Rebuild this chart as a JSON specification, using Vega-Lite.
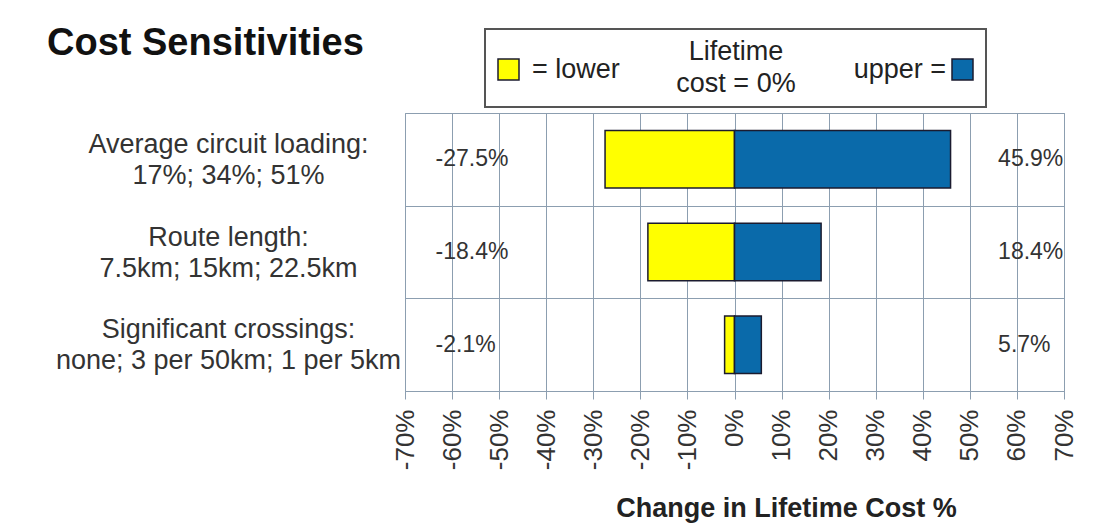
{
  "$schema": "https://vega.github.io/schema/vega-lite/v6.json",
  "width": 659,
  "height": 278,
  "autosize": {"type": "none"},
  "padding": {"left": 405, "top": 113, "right": 30, "bottom": 140},
  "background": "white",
  "title": {
    "text": "Cost Sensitivities",
    "anchor": "start",
    "frame": "group",
    "fontSize": 38,
    "fontWeight": "bold",
    "color": "#111111",
    "font": "Liberation Sans",
    "baseline": "alphabetic",
    "dx": -358,
    "dy": 65,
    "offset": 0
  },
  "data": {
    "values": [
      {"factor": "Average circuit loading:|17%; 34%; 51%", "side": "lower", "value": -0.275},
      {"factor": "Average circuit loading:|17%; 34%; 51%", "side": "upper", "value": 0.459},
      {"factor": "Route length:|7.5km; 15km; 22.5km", "side": "lower", "value": -0.184},
      {"factor": "Route length:|7.5km; 15km; 22.5km", "side": "upper", "value": 0.184},
      {"factor": "Significant crossings:|none; 3 per 50km; 1 per 5km", "side": "lower", "value": -0.021},
      {"factor": "Significant crossings:|none; 3 per 50km; 1 per 5km", "side": "upper", "value": 0.057}
    ]
  },
  "encoding": {
    "y": {
      "field": "factor",
      "type": "nominal",
      "sort": null,
      "scale": {"paddingInner": 0, "paddingOuter": 0},
      "axis": {
        "title": null,
        "domain": false,
        "ticks": false,
        "grid": true,
        "tickBand": "extent",
        "gridColor": "#8C9EB0",
        "gridOpacity": 1,
        "labelFontSize": 27,
        "labelColor": "#333333",
        "labelLineHeight": 31,
        "labelAlign": "center",
        "labelOffset": -15,
        "labelPadding": 177,
        "labelLimit": 800
      }
    }
  },
  "layer": [
    {
      "mark": {"type": "bar", "height": {"band": 0.62}, "stroke": "#1b1b2f", "strokeWidth": 1.5},
      "encoding": {
        "x": {
          "field": "value",
          "type": "quantitative",
          "stack": null,
          "scale": {"domain": [-0.7, 0.7], "nice": false, "zero": true},
          "axis": {
            "values": [-0.7, -0.6, -0.5, -0.4, -0.3, -0.2, -0.1, 0, 0.1, 0.2, 0.3, 0.4, 0.5, 0.6, 0.7],
            "format": ".0%",
            "labelAngle": 270,
            "labelFontSize": 26,
            "labelColor": "#333333",
            "labelPadding": 10,
            "labelFlush": false,
            "labelOverlap": false,
            "tickSize": 8,
            "tickColor": "#8C9EB0",
            "domainColor": "#8C9EB0",
            "grid": true,
            "gridColor": "#8C9EB0",
            "gridOpacity": 1,
            "title": "Change in Lifetime Cost %",
            "titleFontSize": 27,
            "titleFontWeight": "bold",
            "titleColor": "#222222",
            "titleX": 381,
            "titleY": 117,
            "titleBaseline": "middle",
            "titleAlign": "center"
          }
        },
        "color": {
          "field": "side",
          "type": "nominal",
          "scale": {"domain": ["lower", "upper"], "range": ["#FFFF00", "#0A6AAA"]},
          "legend": {
            "title": ["Lifetime", "cost = 0%"],
            "orient": "none",
            "legendX": 80,
            "legendY": -84,
            "direction": "horizontal",
            "titleAnchor": "middle",
            "titleAlign": "center",
            "titleFontSize": 27,
            "titleFontWeight": "normal",
            "titleColor": "#222222",
            "titleLineHeight": 32,
            "titleBaseline": "top",
            "titlePadding": -42,
            "symbolType": "square",
            "symbolSize": 441,
            "symbolStrokeColor": "#1b1b2f",
            "symbolStrokeWidth": 1.5,
            "symbolOpacity": 1,
            "labelFontSize": 27,
            "labelColor": "#222222",
            "labelOffset": 10,
            "columnPadding": 233,
            "padding": 10,
            "strokeColor": "#555555",
            "fillColor": "white",
            "labelExpr": "datum.value === 'lower' ? '= lower' : 'upper ='",
            "encode": {
              "legend": {"update": {"strokeWidth": {"value": 2}}},
              "labels": {
                "update": {
                  "align": {"signal": "datum.value === 'upper' ? 'right' : 'left'"},
                  "dx": {"signal": "datum.value === 'upper' ? -40 : 0"}
                }
              }
            }
          }
        }
      }
    },
    {
      "transform": [{"filter": "datum.side === 'lower'"}],
      "mark": {"type": "text", "align": "left", "baseline": "middle", "fontSize": 23, "color": "#333333"},
      "encoding": {
        "x": {"datum": -0.635},
        "text": {"field": "value", "type": "quantitative", "format": ".1%"}
      }
    },
    {
      "transform": [{"filter": "datum.side === 'upper'"}],
      "mark": {"type": "text", "align": "left", "baseline": "middle", "fontSize": 23, "color": "#333333"},
      "encoding": {
        "x": {"datum": 0.56},
        "text": {"field": "value", "type": "quantitative", "format": ".1%"}
      }
    }
  ],
  "config": {
    "font": "Liberation Sans",
    "view": {"stroke": "#8C9EB0", "strokeWidth": 1},
    "style": {"guide-label": {"lineBreak": "|"}},
    "locale": {"number": {"decimal": ".", "thousands": ",", "grouping": [3], "currency": ["$", ""], "minus": "-"}}
  }
}
